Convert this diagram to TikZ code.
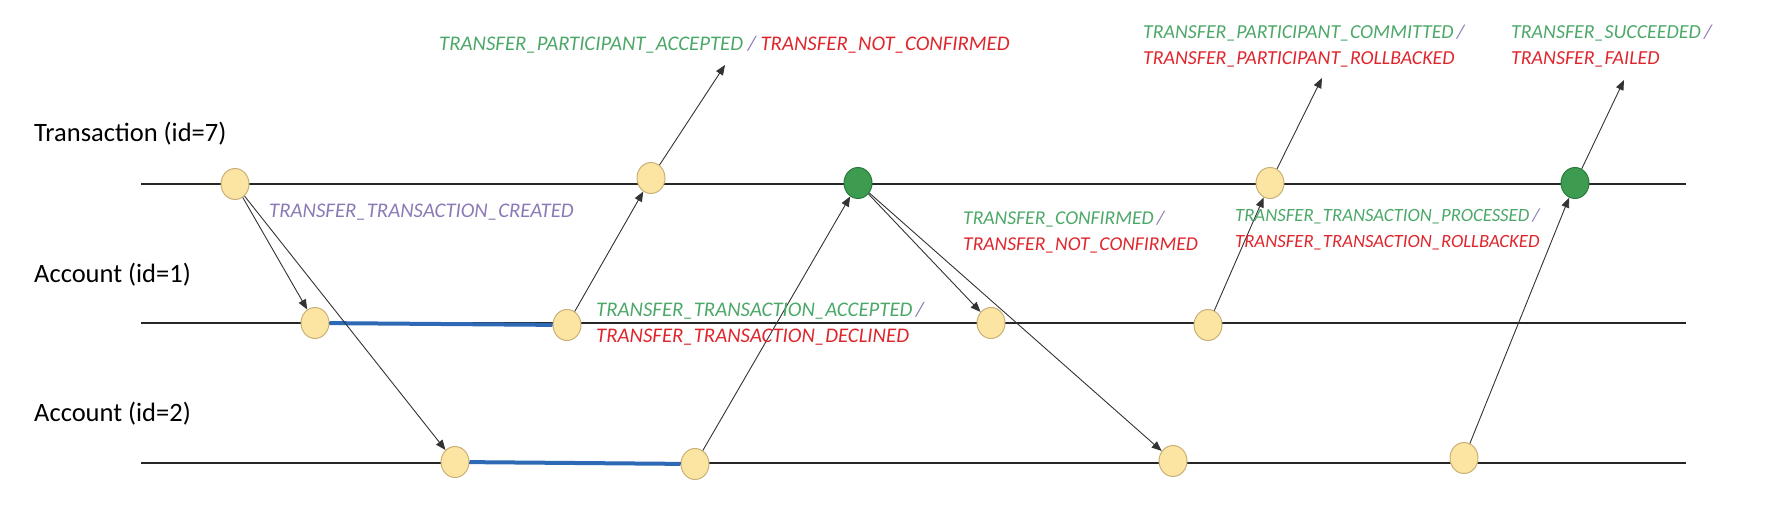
\documentclass[tikz,border=0pt]{standalone}
\usepackage{fontspec}
\setmainfont{Carlito}
\usetikzlibrary{calc}
\usetikzlibrary{positioning}
\usetikzlibrary{shapes.geometric}
\usetikzlibrary{arrows.meta}

\definecolor{okGreen}{RGB}{76,168,104}
\definecolor{failRed}{RGB}{222,38,44}
\definecolor{slashPurple}{RGB}{140,122,182}
\definecolor{eventFill}{RGB}{252,229,163}
\definecolor{eventBorder}{RGB}{200,176,118}
\definecolor{doneFill}{RGB}{62,156,80}
\definecolor{doneBorder}{RGB}{42,122,60}
\definecolor{lockBlue}{RGB}{45,105,180}

\begin{document}
\begin{tikzpicture}[x=1pt, y=-1pt,
    event/.style={ellipse, minimum width=28pt, minimum height=31pt, inner sep=0pt, fill=eventFill, draw=eventBorder, line width=1pt},
    done/.style={event, fill=doneFill, draw=doneBorder},
    timeline/.style={line width=2.5pt, black!85},
    lock/.style={line width=4pt, lockBlue},
    msg/.style={-{Triangle[length=10pt,width=8pt]}, line width=0.9pt, black!80},
    rowLabel/.style={anchor=west, inner sep=0pt, font=\fontsize{26.5}{30}\selectfont},
    evLabel/.style={anchor=west, inner sep=0pt, align=left, font=\fontsize{#1}{26}\selectfont\itshape},
    evLabel/.default=20.8]
    \useasboundingbox (0,0) rectangle (1765,521);

    % time lines
    \node [rowLabel] (txLabel) at (34,134) {Transaction (id=7)};
    \node [rowLabel] (accOneLabel) at (34,275) {Account (id=1)};
    \node [rowLabel] (accTwoLabel) at (34,414) {Account (id=2)};
    \coordinate (txStart) at (141,184);      \coordinate (txEnd) at (1686,184);
    \coordinate (accOneStart) at (141,323);  \coordinate (accOneEnd) at (1686,323);
    \coordinate (accTwoStart) at (141,463);  \coordinate (accTwoEnd) at (1686,463);
    \draw [timeline] (txStart) -- (txEnd);
    \draw [timeline] (accOneStart) -- (accOneEnd);
    \draw [timeline] (accTwoStart) -- (accTwoEnd);

    % events
    \node [event] (txCreated) at (235,184) {};
    \node [event] (txAccepted) at (651,178) {};
    \node [done] (txConfirmed) at (858,183) {};
    \node [event] (txProcessed) at (1270,183) {};
    \node [done] (txFinished) at (1575,183) {};
    \node [event] (accOneReserve) at (315,323) {};
    \node [event] (accOneAccept) at (567,325) {};
    \node [event] (accOneCommit) at (991,323) {};
    \node [event] (accOneDone) at (1208,325) {};
    \node [event] (accTwoReserve) at (455,462) {};
    \node [event] (accTwoAccept) at (695,464) {};
    \node [event] (accTwoCommit) at (1173,461) {};
    \node [event] (accTwoDone) at (1464,458) {};

    \coordinate (participantOut) at (725,65);
    \coordinate (committedOut) at (1322,78);
    \coordinate (succeededOut) at (1624,80);

    % locked ranges
    \draw [lock] (accOneReserve) -- (accOneAccept);
    \draw [lock] (accTwoReserve) -- (accTwoAccept);

    % messages
    \draw [msg] (txCreated) -- (accOneReserve);
    \draw [msg] (txCreated) -- (accTwoReserve);
    \draw [msg] (accOneAccept) -- (txAccepted);
    \draw [msg] (txAccepted) -- (participantOut);
    \draw [msg] (accTwoAccept) -- (txConfirmed);
    \draw [msg] (txConfirmed) -- (accOneCommit);
    \draw [msg] (txConfirmed) -- (accTwoCommit);
    \draw [msg] (accOneDone) -- (txProcessed);
    \draw [msg] (txProcessed) -- (committedOut);
    \draw [msg] (accTwoDone) -- (txFinished);
    \draw [msg] (txFinished) -- (succeededOut);

    % event names
    \node [evLabel, text=slashPurple] (createdText) at (269,212) {TRANSFER\_TRANSACTION\_CREATED};
    \node [evLabel] (participantText) at (439,45) {\textcolor{okGreen}{TRANSFER\_PARTICIPANT\_ACCEPTED} \textcolor{slashPurple}{/} \textcolor{failRed}{TRANSFER\_NOT\_CONFIRMED}};
    \node [evLabel] (acceptedText) at (596,324) {\textcolor{okGreen}{TRANSFER\_TRANSACTION\_ACCEPTED}\,\textcolor{slashPurple}{/}\\\textcolor{failRed}{TRANSFER\_TRANSACTION\_DECLINED}};
    \node [evLabel=19.6] (confirmedText) at (963,232) {\textcolor{okGreen}{TRANSFER\_CONFIRMED}\,\textcolor{slashPurple}{/}\\\textcolor{failRed}{TRANSFER\_NOT\_CONFIRMED}};
    \node [evLabel=19.85] (committedText) at (1143,46) {\textcolor{okGreen}{TRANSFER\_PARTICIPANT\_COMMITTED}\,\textcolor{slashPurple}{/}\\\textcolor{failRed}{TRANSFER\_PARTICIPANT\_ROLLBACKED}};
    \node [evLabel=18.7] (processedText) at (1235,229) {\textcolor{okGreen}{TRANSFER\_TRANSACTION\_PROCESSED}\,\textcolor{slashPurple}{/}\\\textcolor{failRed}{TRANSFER\_TRANSACTION\_ROLLBACKED}};
    \node [evLabel=19.9] (succeededText) at (1511,46) {\textcolor{okGreen}{TRANSFER\_SUCCEEDED}\,\textcolor{slashPurple}{/}\\\textcolor{failRed}{TRANSFER\_FAILED}};
\end{tikzpicture}
\end{document}
